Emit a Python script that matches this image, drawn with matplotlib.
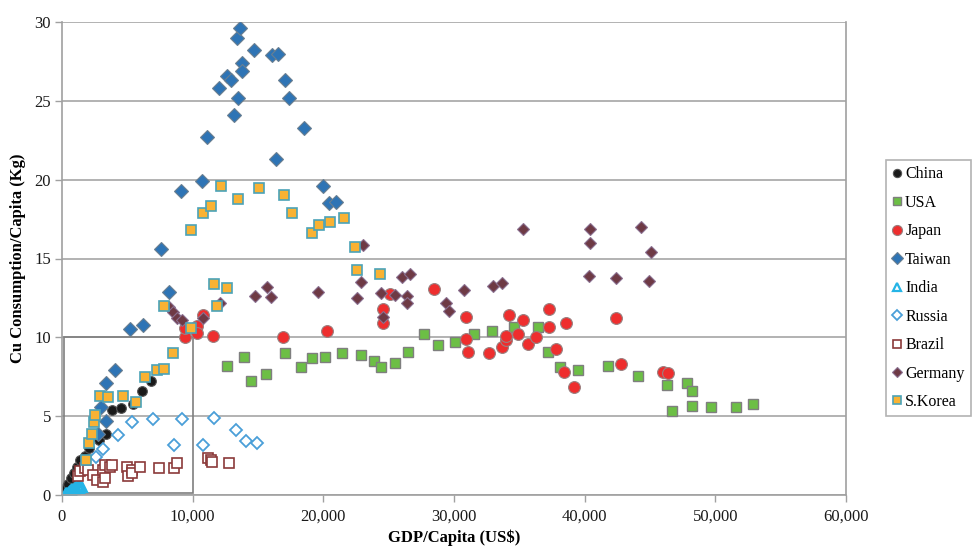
import numpy as np
import matplotlib
matplotlib.use("Agg")
import matplotlib.pyplot as plt
from matplotlib.patches import Rectangle
from matplotlib.ticker import FuncFormatter

plt.rcParams['font.family'] = ['Liberation Serif', 'DejaVu Serif']

# GDP/capita in thousand US$, Cu consumption/capita in kg
china_gdp = [0.25, 0.45, 0.7, 0.9, 1.15, 1.4, 1.75, 2.1, 2.8, 3.4, 3.8, 4.5, 5.4, 6.1, 6.8]
china_cu = [0.45, 0.7, 1.1, 1.4, 1.8, 2.2, 2.5, 3.0, 3.5, 3.9, 5.4, 5.5, 5.8, 6.6, 7.2]

usa_gdp = [12.6, 13.9, 14.5, 15.6, 17.1, 18.3, 19.1, 20.1, 21.4, 22.9, 23.9, 24.4, 25.5,
           26.5, 27.7, 28.8, 30.1, 31.5, 32.9, 34.6, 36.4, 37.2, 38.1, 39.5, 41.8, 44.1,
           46.3, 47.8, 48.2, 46.7, 48.2, 49.7, 51.6, 52.9]
usa_cu = [8.2, 8.75, 7.2, 7.7, 9.0, 8.1, 8.7, 8.75, 9.0, 8.9, 8.5, 8.1, 8.4,
          9.1, 10.2, 9.5, 9.7, 10.2, 10.4, 10.65, 10.65, 9.1, 8.1, 7.9, 8.2, 7.55,
          7.0, 7.1, 6.6, 5.3, 5.65, 5.6, 5.6, 5.8]

japan_gdp = [9.4, 9.4, 10.3, 10.3, 10.8, 11.55, 16.9, 20.3, 24.6, 24.6, 25.1, 28.5, 30.9,
             30.9, 31.1, 32.7, 33.7, 34.0, 34.0, 34.2, 34.9, 35.3, 35.7, 36.3, 37.3, 37.3,
             37.8, 38.4, 38.6, 39.2, 42.4, 42.8, 46.0, 46.4]
japan_cu = [10.0, 10.6, 10.7, 10.3, 11.4, 10.1, 10.0, 10.4, 10.9, 11.8, 12.75, 13.05, 11.3,
            9.9, 9.1, 9.0, 9.4, 9.8, 10.1, 11.4, 10.2, 11.1, 9.6, 10.0, 10.65, 11.8,
            9.25, 7.8, 10.9, 6.85, 11.2, 8.3, 7.8, 7.75]

taiwan_gdp = [2.75, 3.0, 3.4, 3.4, 4.05, 5.2, 6.2, 7.6, 8.2, 9.1, 10.7, 11.1, 12.0, 12.6,
              12.9, 13.2, 13.4, 13.5, 13.6, 13.8, 13.8, 14.7, 16.1, 16.4, 16.5, 17.1, 17.4,
              18.5, 20.0, 20.4, 21.0]
taiwan_cu = [3.9, 5.6, 4.7, 7.1, 7.9, 10.5, 10.8, 15.6, 12.9, 19.3, 19.9, 22.7, 25.8, 26.6,
             26.3, 24.1, 29.0, 25.2, 29.6, 27.4, 26.9, 28.2, 27.9, 21.3, 28.0, 26.3, 25.2,
             23.3, 19.6, 18.5, 18.6]

india_gdp = [0.3, 0.4, 0.5, 0.6, 0.7, 0.8, 0.9, 1.0, 1.1, 1.2, 1.3, 1.4, 1.5]
india_cu = [0.1, 0.15, 0.2, 0.25, 0.3, 0.35, 0.4, 0.45, 0.5, 0.55, 0.45, 0.6, 0.5]

russia_gdp = [2.6, 3.1, 4.3, 5.35, 7.0, 8.6, 9.2, 10.8, 11.6, 13.3, 14.1, 14.9]
russia_cu = [2.4, 2.9, 3.8, 4.6, 4.8, 3.2, 4.8, 3.2, 4.9, 4.1, 3.4, 3.3]

brazil_gdp = [1.2, 1.4, 1.75, 2.0, 2.4, 2.7, 3.1, 3.1, 3.3, 3.3, 3.7, 3.8, 5.0, 5.05,
              5.35, 5.35, 6.0, 7.4, 8.6, 8.8, 11.2, 11.4, 11.5, 12.8]
brazil_cu = [1.2, 1.5, 1.7, 1.6, 1.3, 0.95, 0.8, 1.6, 1.1, 1.9, 1.8, 1.9, 1.8, 1.2,
             1.6, 1.4, 1.8, 1.7, 1.7, 2.0, 2.35, 2.2, 2.1, 2.0]

germany_gdp = [8.2, 8.5, 8.8, 9.2, 10.8, 12.1, 14.8, 15.7, 16.0, 19.6, 22.6, 22.9, 23.0,
               24.4, 24.6, 25.5, 26.0, 26.6, 26.4, 26.4, 29.4, 29.6, 30.8, 33.0, 33.7,
               35.3, 40.4, 40.4, 40.3, 42.4, 44.3, 45.1, 44.9]
germany_cu = [11.9, 11.6, 11.2, 11.1, 11.2, 12.2, 12.6, 13.2, 12.55, 12.9, 12.5, 13.5, 15.85,
              12.8, 11.3, 12.7, 13.8, 14.0, 12.6, 12.2, 12.2, 11.7, 13.0, 13.25, 13.45,
              16.9, 16.9, 16.0, 13.9, 13.75, 17.0, 15.4, 13.6]

korea_gdp = [1.8, 2.1, 2.3, 2.45, 2.5, 2.9, 3.5, 4.7, 5.7, 6.35, 7.3, 7.8, 8.5, 7.8, 9.9,
             9.9, 10.8, 11.4, 11.6, 11.9, 12.2, 12.6, 13.5, 15.1, 17.0, 17.6, 19.1, 19.7,
             20.5, 21.6, 22.4, 22.6, 24.3]
korea_cu = [2.2, 3.3, 3.9, 4.6, 5.1, 6.3, 6.2, 6.3, 5.9, 7.5, 7.9, 8.0, 9.0, 12.0, 10.6,
            16.8, 17.9, 18.3, 13.4, 12.0, 19.6, 13.1, 18.8, 19.5, 19.0, 17.9, 16.6, 17.1,
            17.3, 17.6, 15.7, 14.3, 14.0]

series = [
    ("China", china_gdp, china_cu, dict(marker='o', ms=7, mfc='#1a1a1a', mec='#555555', mew=0.8)),
    ("USA", usa_gdp, usa_cu, dict(marker='s', ms=7.5, mfc='#6cbf45', mec='#7f7f7f', mew=1.0)),
    ("Japan", japan_gdp, japan_cu, dict(marker='o', ms=8.5, mfc='#ee2e2e', mec='#9a8080', mew=0.8)),
    ("Taiwan", taiwan_gdp, taiwan_cu, dict(marker='D', ms=7, mfc='#2e74b5', mec='#6a7f90', mew=0.8)),
    ("India", india_gdp, india_cu, dict(marker='^', ms=7, mfc='none', mec='#25b4e6', mew=1.6)),
    ("Russia", russia_gdp, russia_cu, dict(marker='D', ms=6.5, mfc='white', mec='#4a9fd8', mew=1.3)),
    ("Brazil", brazil_gdp, brazil_cu, dict(marker='s', ms=7, mfc='white', mec='#8b3a3a', mew=1.2)),
    ("Germany", germany_gdp, germany_cu, dict(marker='D', ms=6.5, mfc='#6e3a45', mec='#8a7090', mew=0.8)),
    ("S.Korea", korea_gdp, korea_cu, dict(marker='s', ms=7.5, mfc='#f9b233', mec='#4ba3b8', mew=1.2)),
]

fig = plt.figure(figsize=(9.74, 5.5), dpi=100)
ax = fig.add_axes([62 / 974, 1 - 495 / 550, 784 / 974, 473 / 550])

for name, gdp, cu, style in series:
    ax.plot(np.array(gdp) * 1000, cu, linestyle='none', label=name, **style)

# box marking the low-income region
ax.add_patch(Rectangle((150, 0.12), 9850, 9.88, fill=False, edgecolor='#7f7f7f',
                       linewidth=1.2, zorder=1))

ax.set_xlim(0, 60000)
ax.set_ylim(0, 30)
ax.set_xticks(np.arange(0, 60001, 10000))
ax.set_yticks(np.arange(0, 31, 5))
ax.xaxis.set_major_formatter(FuncFormatter(lambda v, p: f"{int(v):,}"))
ax.yaxis.grid(True, color='#a6a6a6', linewidth=1.2)
ax.set_axisbelow(True)
for side in ['left', 'bottom', 'right']:
    ax.spines[side].set_color('#a0a0a0')
    ax.spines[side].set_linewidth(1.2)
ax.spines['top'].set_visible(False)
ax.tick_params(axis='both', colors='#a0a0a0', labelcolor='#1a1a1a', labelsize=12,
               direction='out', length=5, width=1.0)
ax.tick_params(axis='x', pad=5)
ax.tick_params(axis='y', pad=3)

ax.set_xlabel("GDP/Capita (US$)", fontsize=12, fontweight='bold', labelpad=3)
ax.set_ylabel("Cu Consumption/Capita (Kg)", fontsize=12, fontweight='bold', labelpad=6)

leg = fig.legend(loc='upper left', bbox_to_anchor=(886 / 974, 1 - 160 / 550),
                 fontsize=11.5, frameon=True, fancybox=False, handlelength=0.6,
                 handletextpad=0.2, labelspacing=0.78, borderpad=0.4,
                 borderaxespad=0, markerscale=0.85)
leg.get_frame().set_edgecolor('#a0a0a0')
leg.get_frame().set_linewidth(1.2)

fig.savefig("out.png", dpi=100)
